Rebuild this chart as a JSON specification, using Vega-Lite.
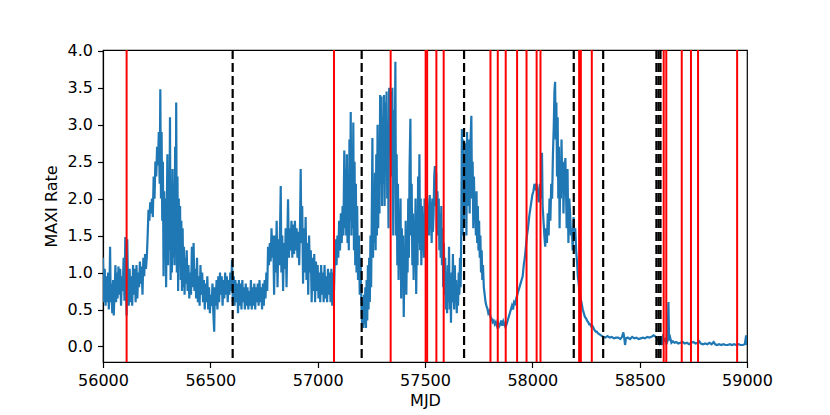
{
  "$schema": "https://vega.github.io/schema/vega-lite/v6.json",
  "autosize": "none",
  "width": 644,
  "height": 312,
  "padding": {"left": 103, "top": 50, "right": 83, "bottom": 53},
  "background": "white",
  "config": {
    "font": "DejaVu Sans",
    "view": {"stroke": "black", "strokeWidth": 1.2},
    "axis": {
      "grid": false,
      "domainColor": "black",
      "domainWidth": 1.2,
      "tickColor": "black",
      "tickWidth": 1.2,
      "tickSize": 5.5,
      "labelPadding": 5,
      "labelFontSize": 16,
      "labelColor": "black",
      "labelFlush": false,
      "labelOverlap": false,
      "titleFontSize": 16,
      "titleFontWeight": "normal",
      "titleColor": "black",
      "labelFont": "DejaVu Sans",
      "titleFont": "DejaVu Sans"
    }
  },
  "datasets": {
    "lc": [
{"t":56000,"r":1.2},{"t":56004,"r":0.6},{"t":56008,"r":1.05},{"t":56012,"r":0.55},{"t":56016,"r":0.95},{"t":56020,"r":0.6},{"t":56024,"r":1.0},{"t":56027,"r":0.5},{"t":56030,"r":0.7},{"t":56033,"r":1.35},{"t":56036,"r":0.6},{"t":56040,"r":0.85},{"t":56043,"r":0.45},{"t":56047,"r":0.9},{"t":56050,"r":0.42},{"t":56054,"r":0.75},{"t":56058,"r":1.1},{"t":56061,"r":0.6},{"t":56065,"r":1.0},{"t":56068,"r":0.65},{"t":56072,"r":1.08},{"t":56076,"r":0.7},{"t":56080,"r":1.05},{"t":56084,"r":0.55},{"t":56088,"r":0.95},{"t":56092,"r":0.75},{"t":56096,"r":1.2},{"t":56100,"r":0.62},{"t":56104,"r":1.48},{"t":56107,"r":0.8},{"t":56110,"r":0.42},{"t":56113,"r":1.45},{"t":56116,"r":0.9},{"t":56120,"r":0.55},{"t":56124,"r":1.05},{"t":56128,"r":0.6},{"t":56132,"r":0.95},{"t":56136,"r":0.55},{"t":56140,"r":1.1},{"t":56144,"r":0.7},{"t":56148,"r":1.05},{"t":56152,"r":0.6},{"t":56156,"r":1.1},{"t":56160,"r":0.65},{"t":56164,"r":1.0},{"t":56168,"r":0.8},{"t":56172,"r":1.15},{"t":56176,"r":0.85},{"t":56180,"r":1.08},{"t":56184,"r":0.7},{"t":56188,"r":1.2},{"t":56192,"r":0.95},{"t":56196,"r":1.25},{"t":56200,"r":1.05},{"t":56204,"r":1.2},
{"t":56208,"r":1.5},{"t":56212,"r":1.85},{"t":56216,"r":1.7},{"t":56220,"r":1.95},{"t":56224,"r":1.8},{"t":56228,"r":2.0},{"t":56232,"r":1.75},{"t":56236,"r":2.3},{"t":56240,"r":2.0},{"t":56244,"r":2.5},{"t":56248,"r":2.3},{"t":56252,"r":2.7},{"t":56256,"r":2.45},{"t":56260,"r":2.9},{"t":56264,"r":2.2},{"t":56267,"r":3.48},{"t":56270,"r":2.0},{"t":56273,"r":2.9},{"t":56276,"r":1.7},{"t":56279,"r":2.5},{"t":56282,"r":0.95},{"t":56285,"r":2.1},{"t":56288,"r":1.2},{"t":56291,"r":2.0},{"t":56294,"r":0.8},{"t":56297,"r":1.8},{"t":56300,"r":2.6},{"t":56303,"r":1.1},{"t":56306,"r":2.3},{"t":56309,"r":1.3},{"t":56312,"r":3.1},{"t":56315,"r":0.9},{"t":56318,"r":2.0},{"t":56321,"r":1.0},{"t":56324,"r":2.4},{"t":56327,"r":1.2},{"t":56330,"r":2.2},{"t":56333,"r":1.1},{"t":56336,"r":2.7},{"t":56339,"r":1.3},{"t":56341,"r":3.3},{"t":56344,"r":1.0},{"t":56347,"r":2.3},{"t":56350,"r":0.75},{"t":56353,"r":2.0},{"t":56356,"r":1.1},{"t":56359,"r":1.9},{"t":56362,"r":0.9},{"t":56365,"r":1.7},{"t":56368,"r":0.75},{"t":56371,"r":1.6},{"t":56374,"r":0.8},{"t":56377,"r":1.35},{"t":56380,"r":0.7},{"t":56383,"r":1.2},{"t":56386,"r":0.85},{"t":56390,"r":1.3},{"t":56394,"r":0.75},{"t":56398,"r":1.1},{"t":56402,"r":0.65},{"t":56406,"r":1.0},{"t":56410,"r":0.7},{"t":56414,"r":1.35},{"t":56418,"r":0.8},{"t":56422,"r":1.4},{"t":56426,"r":0.75},{"t":56430,"r":1.05},{"t":56434,"r":0.65},{"t":56438,"r":1.2},{"t":56442,"r":0.6},{"t":56446,"r":0.95},{"t":56450,"r":0.55},{"t":56454,"r":1.1},{"t":56458,"r":0.7},{"t":56462,"r":1.0},{"t":56466,"r":0.6},{"t":56470,"r":0.9},{"t":56474,"r":0.5},{"t":56478,"r":0.85},{"t":56482,"r":0.6},{"t":56486,"r":0.95},{"t":56490,"r":0.5},{"t":56494,"r":0.8},{"t":56498,"r":0.45},{"t":56502,"r":0.7},{"t":56506,"r":0.55},{"t":56510,"r":0.85},{"t":56514,"r":0.45},{"t":56518,"r":0.2},{"t":56521,"r":0.8},{"t":56525,"r":0.55},{"t":56529,"r":0.9},{"t":56533,"r":0.5},{"t":56537,"r":0.95},{"t":56541,"r":0.6},{"t":56545,"r":1.0},{"t":56549,"r":0.7},{"t":56553,"r":0.95},{"t":56557,"r":0.55},{"t":56561,"r":0.9},{"t":56565,"r":0.65},{"t":56569,"r":1.0},{"t":56573,"r":0.7},{"t":56577,"r":0.95},{"t":56581,"r":0.6},{"t":56585,"r":0.9},{"t":56589,"r":0.7},{"t":56593,"r":1.0},{"t":56597,"r":0.75},{"t":56601,"r":1.17},{"t":56605,"r":0.6},{"t":56609,"r":0.95},{"t":56613,"r":0.55},{"t":56617,"r":0.9},{"t":56621,"r":0.6},{"t":56625,"r":0.85},{"t":56629,"r":0.45},{"t":56633,"r":0.9},{"t":56637,"r":0.55},{"t":56641,"r":0.85},{"t":56645,"r":0.5},{"t":56649,"r":0.9},{"t":56653,"r":0.6},{"t":56657,"r":0.8},{"t":56661,"r":0.5},{"t":56665,"r":0.85},{"t":56669,"r":0.55},{"t":56673,"r":0.8},{"t":56677,"r":0.5},{"t":56681,"r":0.75},{"t":56685,"r":0.55},{"t":56689,"r":0.9},{"t":56693,"r":0.5},{"t":56697,"r":0.8},{"t":56701,"r":0.55},{"t":56705,"r":0.85},{"t":56709,"r":0.5},{"t":56713,"r":0.8},{"t":56717,"r":0.6},{"t":56721,"r":0.85},{"t":56725,"r":0.55},{"t":56729,"r":0.9},{"t":56733,"r":0.6},{"t":56737,"r":0.8},{"t":56741,"r":0.5},{"t":56745,"r":0.85},{"t":56749,"r":0.55},{"t":56753,"r":0.9},{"t":56757,"r":0.65},{"t":56761,"r":1.0},{"t":56765,"r":0.75},{"t":56769,"r":1.35},{"t":56773,"r":1.1},{"t":56777,"r":1.4},{"t":56781,"r":1.15},{"t":56785,"r":1.6},{"t":56789,"r":1.2},{"t":56793,"r":1.5},{"t":56797,"r":0.7},{"t":56801,"r":1.5},{"t":56805,"r":1.0},{"t":56809,"r":1.7},{"t":56813,"r":0.8},{"t":56817,"r":1.45},{"t":56821,"r":1.1},{"t":56825,"r":1.65},{"t":56828,"r":2.17},{"t":56831,"r":1.0},{"t":56835,"r":1.5},{"t":56839,"r":0.75},{"t":56843,"r":1.4},{"t":56847,"r":1.05},{"t":56851,"r":1.6},{"t":56855,"r":0.8},{"t":56859,"r":1.5},{"t":56862,"r":1.99},{"t":56866,"r":1.2},{"t":56870,"r":1.6},{"t":56874,"r":1.3},{"t":56878,"r":1.7},{"t":56882,"r":1.2},{"t":56886,"r":1.65},{"t":56890,"r":1.25},{"t":56894,"r":1.7},{"t":56898,"r":1.3},{"t":56902,"r":1.6},{"t":56906,"r":1.2},{"t":56910,"r":1.55},{"t":56914,"r":1.1},{"t":56918,"r":1.7},{"t":56921,"r":2.4},{"t":56924,"r":1.4},{"t":56928,"r":1.9},{"t":56932,"r":0.85},{"t":56936,"r":1.6},{"t":56940,"r":1.0},{"t":56944,"r":1.75},{"t":56948,"r":0.9},{"t":56952,"r":1.4},{"t":56956,"r":0.7},{"t":56960,"r":1.5},{"t":56964,"r":1.0},{"t":56968,"r":1.3},{"t":56972,"r":0.6},{"t":56976,"r":1.2},{"t":56980,"r":0.75},{"t":56984,"r":1.25},{"t":56988,"r":0.6},{"t":56992,"r":1.15},{"t":56996,"r":0.75},{"t":57000,"r":1.1},{"t":57004,"r":0.65},{"t":57008,"r":1.0},{"t":57012,"r":0.6},{"t":57016,"r":1.1},{"t":57020,"r":0.7},{"t":57024,"r":1.0},{"t":57028,"r":0.6},{"t":57032,"r":1.1},{"t":57036,"r":0.65},{"t":57040,"r":0.95},{"t":57044,"r":0.6},{"t":57048,"r":1.05},{"t":57052,"r":0.7},{"t":57056,"r":1.0},{"t":57060,"r":0.6},{"t":57064,"r":1.05},{"t":57068,"r":0.55},{"t":57072,"r":1.0},{"t":57076,"r":0.75},{"t":57080,"r":1.2},{"t":57084,"r":1.45},{"t":57088,"r":1.1},{"t":57092,"r":1.5},{"t":57096,"r":1.2},{"t":57100,"r":1.7},{"t":57104,"r":1.3},{"t":57108,"r":1.8},{"t":57112,"r":1.4},{"t":57116,"r":1.9},{"t":57120,"r":1.5},{"t":57124,"r":2.65},{"t":57127,"r":1.6},{"t":57130,"r":2.4},{"t":57133,"r":1.5},{"t":57136,"r":2.6},{"t":57139,"r":1.4},{"t":57142,"r":2.2},{"t":57145,"r":1.3},{"t":57148,"r":2.8},{"t":57151,"r":1.7},{"t":57154,"r":3.17},{"t":57157,"r":1.5},{"t":57160,"r":2.7},{"t":57163,"r":1.6},{"t":57166,"r":3.03},{"t":57169,"r":1.3},{"t":57172,"r":2.5},{"t":57175,"r":1.1},{"t":57178,"r":2.2},{"t":57181,"r":1.0},{"t":57184,"r":1.9},{"t":57188,"r":0.9},{"t":57192,"r":1.5},{"t":57196,"r":0.7},{"t":57200,"r":1.2},{"t":57204,"r":0.55},{"t":57207,"r":0.3},{"t":57210,"r":0.6},{"t":57213,"r":0.25},{"t":57216,"r":0.7},{"t":57219,"r":0.3},{"t":57222,"r":0.8},{"t":57225,"r":0.25},{"t":57228,"r":0.9},{"t":57231,"r":0.35},{"t":57234,"r":1.1},{"t":57237,"r":0.5},{"t":57240,"r":1.2},{"t":57243,"r":0.6},{"t":57246,"r":1.5},{"t":57249,"r":0.8},{"t":57252,"r":1.7},{"t":57255,"r":2.82},{"t":57258,"r":1.2},{"t":57261,"r":2.0},{"t":57264,"r":1.4},{"t":57267,"r":2.35},{"t":57270,"r":1.3},{"t":57273,"r":2.6},{"t":57276,"r":1.5},{"t":57279,"r":3.0},{"t":57282,"r":1.6},{"t":57285,"r":2.5},{"t":57288,"r":1.8},{"t":57291,"r":3.4},{"t":57294,"r":2.2},{"t":57297,"r":3.38},{"t":57300,"r":1.9},{"t":57303,"r":3.1},{"t":57306,"r":2.2},{"t":57309,"r":3.4},{"t":57312,"r":1.9},{"t":57315,"r":3.3},{"t":57318,"r":2.4},{"t":57321,"r":3.45},{"t":57324,"r":2.0},{"t":57327,"r":3.0},{"t":57330,"r":1.6},{"t":57333,"r":3.5},{"t":57336,"r":2.6},{"t":57340,"r":3.45},{"t":57344,"r":2.3},{"t":57348,"r":3.5},{"t":57352,"r":1.5},{"t":57356,"r":3.2},{"t":57359,"r":2.5},{"t":57362,"r":3.85},{"t":57365,"r":1.5},{"t":57368,"r":2.6},{"t":57371,"r":1.1},{"t":57374,"r":2.2},{"t":57377,"r":0.9},{"t":57380,"r":1.8},{"t":57383,"r":1.3},{"t":57386,"r":2.0},{"t":57389,"r":0.65},{"t":57392,"r":1.6},{"t":57395,"r":0.9},{"t":57398,"r":1.5},{"t":57401,"r":0.4},{"t":57404,"r":1.2},{"t":57407,"r":0.8},{"t":57410,"r":1.7},{"t":57413,"r":0.7},{"t":57416,"r":1.4},{"t":57419,"r":1.0},{"t":57422,"r":2.0},{"t":57425,"r":1.2},{"t":57428,"r":2.4},{"t":57432,"r":3.08},{"t":57435,"r":1.5},{"t":57438,"r":2.2},{"t":57441,"r":1.1},{"t":57444,"r":1.8},{"t":57447,"r":0.9},{"t":57450,"r":1.6},{"t":57453,"r":1.3},{"t":57456,"r":2.0},{"t":57459,"r":0.71},{"t":57462,"r":1.5},{"t":57465,"r":1.1},{"t":57468,"r":2.3},{"t":57471,"r":1.4},{"t":57474,"r":2.6},{"t":57477,"r":1.3},{"t":57480,"r":2.0},{"t":57483,"r":1.1},{"t":57486,"r":1.9},{"t":57489,"r":1.3},{"t":57492,"r":1.8},{"t":57495,"r":1.2},{"t":57498,"r":2.0},{"t":57501,"r":1.4},{"t":57504,"r":1.8},{"t":57507,"r":1.3},{"t":57510,"r":2.0},{"t":57513,"r":1.6},{"t":57516,"r":1.9},{"t":57519,"r":1.5},{"t":57522,"r":2.05},{"t":57525,"r":1.6},{"t":57528,"r":1.95},{"t":57531,"r":1.4},{"t":57534,"r":2.0},{"t":57537,"r":1.55},{"t":57540,"r":1.8},{"t":57543,"r":2.3},{"t":57546,"r":2.44},{"t":57549,"r":1.9},{"t":57552,"r":2.35},{"t":57555,"r":1.6},{"t":57558,"r":2.1},{"t":57561,"r":1.5},{"t":57564,"r":2.0},{"t":57567,"r":1.3},{"t":57570,"r":1.8},{"t":57573,"r":1.2},{"t":57576,"r":1.9},{"t":57579,"r":1.1},{"t":57582,"r":1.6},{"t":57585,"r":0.8},{"t":57588,"r":1.4},{"t":57591,"r":0.7},{"t":57594,"r":1.2},{"t":57597,"r":0.5},{"t":57600,"r":1.0},{"t":57603,"r":0.45},{"t":57606,"r":1.1},{"t":57609,"r":0.6},{"t":57612,"r":1.35},{"t":57615,"r":0.5},{"t":57618,"r":0.9},{"t":57621,"r":0.32},{"t":57624,"r":1.0},{"t":57627,"r":0.6},{"t":57630,"r":1.25},{"t":57633,"r":0.7},{"t":57636,"r":0.5},{"t":57639,"r":1.1},{"t":57642,"r":0.6},{"t":57645,"r":0.9},{"t":57648,"r":0.45},{"t":57651,"r":0.8},{"t":57654,"r":0.55},{"t":57657,"r":1.0},{"t":57660,"r":0.7},{"t":57663,"r":1.2},{"t":57666,"r":0.8},{"t":57669,"r":1.6},{"t":57672,"r":2.94},{"t":57675,"r":1.5},{"t":57678,"r":2.8},{"t":57681,"r":1.7},{"t":57684,"r":2.6},{"t":57687,"r":2.2},{"t":57690,"r":2.75},{"t":57693,"r":1.5},{"t":57696,"r":2.9},{"t":57699,"r":1.9},{"t":57702,"r":2.3},{"t":57705,"r":2.8},{"t":57708,"r":1.8},{"t":57711,"r":2.7},{"t":57716,"r":3.12},{"t":57719,"r":2.0},{"t":57722,"r":2.5},{"t":57725,"r":1.6},{"t":57728,"r":2.3},{"t":57731,"r":1.8},{"t":57734,"r":2.0},{"t":57737,"r":1.5},{"t":57740,"r":2.1},{"t":57743,"r":1.4},{"t":57746,"r":1.9},{"t":57749,"r":1.3},{"t":57752,"r":1.7},{"t":57755,"r":1.2},{"t":57758,"r":1.5},{"t":57761,"r":1.0},{"t":57764,"r":1.3},{"t":57767,"r":0.9},{"t":57770,"r":1.1},{"t":57774,"r":0.8},{"t":57778,"r":0.7},{"t":57782,"r":0.6},{"t":57786,"r":0.55},{"t":57790,"r":0.52},{"t":57795,"r":0.45},{"t":57800,"r":0.48},{"t":57805,"r":0.4},{"t":57810,"r":0.38},{"t":57815,"r":0.33},{"t":57820,"r":0.35},{"t":57825,"r":0.3},{"t":57830,"r":0.33},{"t":57835,"r":0.28},{"t":57840,"r":0.32},{"t":57845,"r":0.27},{"t":57850,"r":0.3},{"t":57855,"r":0.35},{"t":57860,"r":0.28},{"t":57865,"r":0.34},{"t":57870,"r":0.3},{"t":57875,"r":0.26},{"t":57880,"r":0.3},{"t":57885,"r":0.35},{"t":57890,"r":0.4},{"t":57895,"r":0.45},{"t":57900,"r":0.5},{"t":57905,"r":0.55},{"t":57910,"r":0.5},{"t":57915,"r":0.6},{"t":57920,"r":0.58},{"t":57925,"r":0.65},{"t":57930,"r":0.7},{"t":57935,"r":0.75},{"t":57940,"r":0.8},{"t":57945,"r":0.85},{"t":57950,"r":0.9},{"t":57955,"r":0.95},{"t":57960,"r":1.1},{"t":57965,"r":1.2},{"t":57970,"r":1.35},{"t":57975,"r":1.5},{"t":57980,"r":1.6},{"t":57985,"r":1.75},{"t":57990,"r":1.85},{"t":57995,"r":1.95},{"t":58000,"r":2.05},{"t":58005,"r":2.1},{"t":58010,"r":2.2},{"t":58015,"r":2.15},{"t":58020,"r":2.2},{"t":58025,"r":2.1},{"t":58030,"r":1.95},{"t":58035,"r":2.2},{"t":58040,"r":2.0},{"t":58045,"r":2.62},{"t":58048,"r":1.9},{"t":58052,"r":1.7},{"t":58056,"r":1.5},{"t":58060,"r":1.35},{"t":58064,"r":1.6},{"t":58068,"r":1.4},{"t":58072,"r":1.8},{"t":58076,"r":1.5},{"t":58080,"r":2.0},{"t":58084,"r":1.7},{"t":58088,"r":2.2},{"t":58092,"r":2.0},{"t":58096,"r":2.6},{"t":58100,"r":3.0},{"t":58103,"r":3.45},{"t":58106,"r":3.58},{"t":58109,"r":2.8},{"t":58112,"r":3.3},{"t":58115,"r":2.3},{"t":58118,"r":3.1},{"t":58121,"r":2.0},{"t":58124,"r":2.7},{"t":58127,"r":1.6},{"t":58130,"r":2.3},{"t":58133,"r":2.0},{"t":58136,"r":2.8},{"t":58139,"r":2.2},{"t":58142,"r":2.5},{"t":58145,"r":1.8},{"t":58148,"r":2.2},{"t":58151,"r":2.4},{"t":58154,"r":2.55},{"t":58157,"r":2.1},{"t":58160,"r":1.6},{"t":58164,"r":2.4},{"t":58168,"r":1.4},{"t":58172,"r":2.0},{"t":58176,"r":1.8},{"t":58180,"r":1.5},{"t":58184,"r":1.6},{"t":58188,"r":1.3},{"t":58192,"r":1.75},{"t":58196,"r":1.45},{"t":58200,"r":1.6},{"t":58204,"r":1.3},{"t":58208,"r":1.15},{"t":58212,"r":0.95},{"t":58216,"r":0.85},{"t":58220,"r":0.75},{"t":58225,"r":0.65},{"t":58230,"r":0.58},{"t":58235,"r":0.5},{"t":58240,"r":0.45},{"t":58245,"r":0.4},{"t":58250,"r":0.38},{"t":58255,"r":0.35},{"t":58260,"r":0.33},{"t":58265,"r":0.3},{"t":58270,"r":0.3},{"t":58275,"r":0.27},{"t":58280,"r":0.28},{"t":58285,"r":0.25},{"t":58290,"r":0.22},{"t":58295,"r":0.2},{"t":58300,"r":0.2},{"t":58305,"r":0.18},{"t":58310,"r":0.17},{"t":58315,"r":0.16},{"t":58320,"r":0.15},{"t":58325,"r":0.14},{"t":58330,"r":0.13},{"t":58340,"r":0.12},{"t":58350,"r":0.14},{"t":58360,"r":0.12},{"t":58370,"r":0.13},{"t":58380,"r":0.11},{"t":58390,"r":0.12},{"t":58400,"r":0.12},{"t":58410,"r":0.1},{"t":58418,"r":0.13},{"t":58424,"r":0.19},{"t":58428,"r":0.12},{"t":58432,"r":0.02},{"t":58436,"r":0.11},{"t":58445,"r":0.12},{"t":58455,"r":0.1},{"t":58465,"r":0.13},{"t":58475,"r":0.11},{"t":58485,"r":0.12},{"t":58495,"r":0.1},{"t":58505,"r":0.11},{"t":58515,"r":0.12},{"t":58525,"r":0.11},{"t":58535,"r":0.13},{"t":58545,"r":0.12},{"t":58555,"r":0.13},{"t":58565,"r":0.15},{"t":58575,"r":0.13},{"t":58585,"r":0.1},{"t":58592,"r":0.05},{"t":58598,"r":0.14},{"t":58603,"r":0.02},{"t":58608,"r":0.12},{"t":58614,"r":0.08},{"t":58620,"r":0.1},{"t":58625,"r":0.03},{"t":58630,"r":0.08},{"t":58634,"r":0.6},{"t":58637,"r":0.08},{"t":58642,"r":0.12},{"t":58648,"r":0.05},{"t":58655,"r":0.07},{"t":58662,"r":0.05},{"t":58670,"r":0.06},{"t":58680,"r":0.04},{"t":58690,"r":0.05},{"t":58700,"r":0.06},{"t":58710,"r":0.04},{"t":58720,"r":0.05},{"t":58730,"r":0.03},{"t":58740,"r":0.05},{"t":58750,"r":0.06},{"t":58760,"r":0.04},{"t":58770,"r":0.05},{"t":58778,"r":0.07},{"t":58785,"r":0.04},{"t":58795,"r":0.03},{"t":58805,"r":0.04},{"t":58815,"r":0.03},{"t":58825,"r":0.05},{"t":58835,"r":0.03},{"t":58845,"r":0.06},{"t":58852,"r":0.03},{"t":58860,"r":0.02},{"t":58870,"r":0.03},{"t":58880,"r":0.02},{"t":58890,"r":0.03},{"t":58900,"r":0.02},{"t":58910,"r":0.02},{"t":58920,"r":0.03},{"t":58930,"r":0.02},{"t":58940,"r":0.03},{"t":58950,"r":0.02},{"t":58960,"r":0.03},{"t":58970,"r":0.02},{"t":58980,"r":0.02},{"t":58990,"r":0.03},{"t":58996,"r":0.15},{"t":58999,"r":0.02}
    ],
    "red": [
{"m":56110},{"m":57076},{"m":57340},{"m":57503},{"m":57510},{"m":57553},{"m":57587},{"m":57805},{"m":57839},{"m":57876},{"m":57929},{"m":57973},{"m":58020},{"m":58038},{"m":58218},{"m":58226},{"m":58277},{"m":58612},{"m":58624},{"m":58696},{"m":58739},{"m":58772},{"m":58954}
    ],
    "dash": [
{"m":56604},{"m":57205},{"m":57682},{"m":58193},{"m":58330},{"m":58578},{"m":58588},{"m":58597}
    ]
  },
  "layer": [
    {
      "data": {"name": "lc"},
      "mark": {"type": "line", "color": "#1f77b4", "strokeWidth": 2.2, "clip": true},
      "encoding": {
        "x": {
          "field": "t", "type": "quantitative",
          "scale": {"domain": [56000, 59000], "nice": false, "zero": false},
          "axis": {"title": "MJD", "values": [56000, 56500, 57000, 57500, 58000, 58500, 59000], "format": "d", "titlePadding": 4, "labelFlush": false}
        },
        "y": {
          "field": "r", "type": "quantitative",
          "scale": {"domain": [-0.21, 4.01], "nice": false, "zero": false},
          "axis": {"title": "MAXI Rate", "values": [0, 0.5, 1, 1.5, 2, 2.5, 3, 3.5, 4], "format": ".1f", "titlePadding": 8, "labelFlush": false}
        }
      }
    },
    {
      "data": {"name": "red"},
      "mark": {"type": "rule", "color": "#ff0000", "strokeWidth": 2},
      "encoding": {"x": {"field": "m", "type": "quantitative", "scale": {"domain": [56000, 59000], "nice": false, "zero": false}}}
    },
    {
      "data": {"name": "dash"},
      "mark": {"type": "rule", "color": "black", "strokeWidth": 2.2, "strokeDash": [9, 4]},
      "encoding": {"x": {"field": "m", "type": "quantitative", "scale": {"domain": [56000, 59000], "nice": false, "zero": false}}}
    }
  ]
}
